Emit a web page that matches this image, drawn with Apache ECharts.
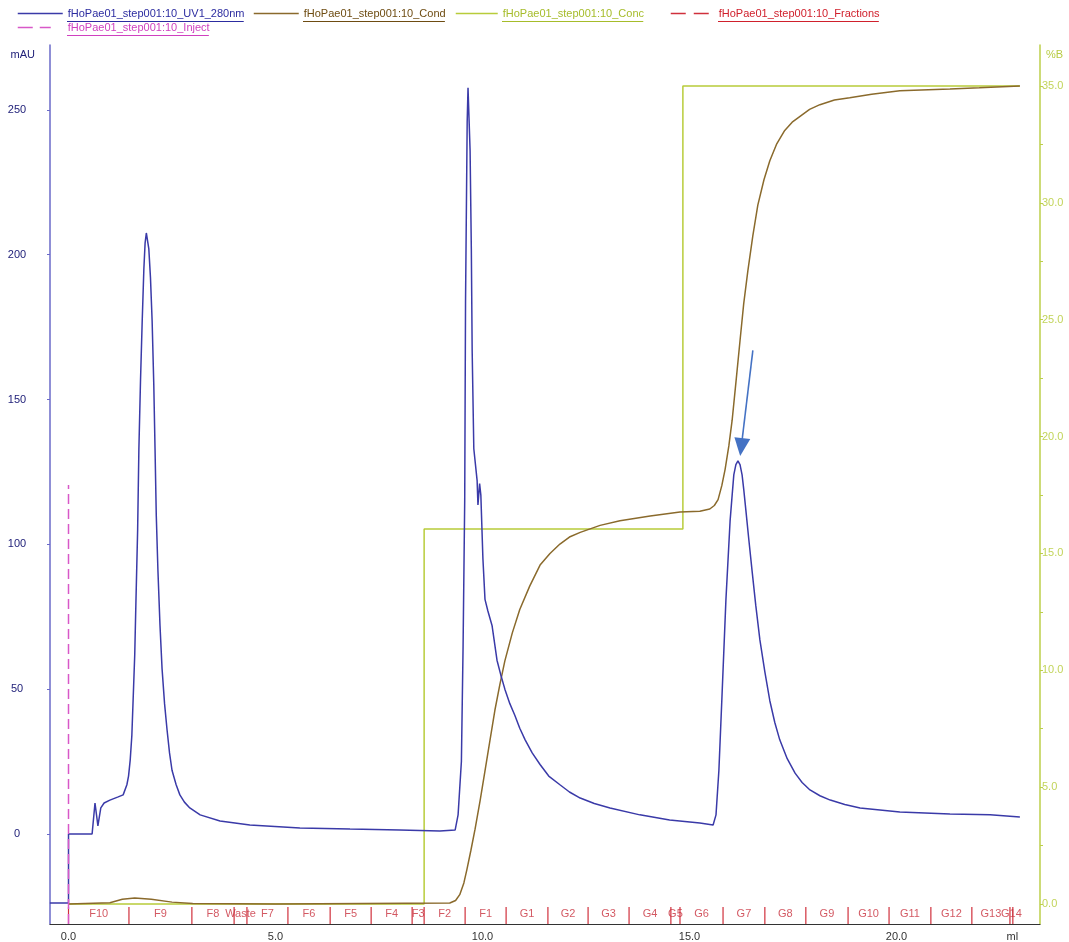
<!DOCTYPE html>
<html>
<head>
    <meta charset="utf-8">
    <title>fHoPae01 step001:10</title>
    <script src="https://cdn.jsdelivr.net/npm/echarts@6/dist/echarts.min.js"></script>
    <style>
        html, body { margin: 0; padding: 0; background: #fff; }
    </style>
</head>
<body>
    <div id="main" style="width: 1069px;height:942px;"></div>
    <script type="text/javascript">
        // volume (ml) / mAU
        var uvData = [
            [-0.45, -23.8], [0, -23.8], [0, 0], [0.57, 0], [0.64, 10.7], [0.71, 2.8], [0.78, 9], [0.86, 10.7],
            [1.0, 11.7], [1.2, 12.8], [1.32, 13.5], [1.41, 17], [1.45, 20], [1.49, 25.5], [1.53, 34], [1.56, 46],
            [1.60, 62], [1.63, 81], [1.67, 105], [1.70, 133], [1.74, 157], [1.78, 177], [1.82, 195], [1.85, 204],
            [1.88, 207.5], [1.91, 207], [1.94, 202], [1.98, 192], [2.02, 177], [2.06, 155], [2.09, 133], [2.12, 110],
            [2.16, 91], [2.21, 72], [2.26, 57], [2.32, 45], [2.38, 36], [2.44, 28], [2.50, 22], [2.6, 17], [2.69, 13.5],
            [2.8, 11], [2.93, 9], [3.18, 6.6], [3.66, 4.5], [4.38, 3.1], [5.59, 2.1], [6.8, 1.7], [8.0, 1.4],
            [8.97, 1.0], [9.34, 1.4], [9.41, 6.6], [9.49, 25], [9.53, 64], [9.57, 115], [9.59, 184], [9.63, 246],
            [9.65, 257.6], [9.69, 257], [9.70, 236], [9.73, 202], [9.75, 167], [9.79, 133], [9.87, 122], [9.89, 113.6],
            [9.93, 121], [9.96, 117], [10.01, 95], [10.06, 81], [10.13, 77], [10.23, 72], [10.35, 60], [10.44, 55],
            [10.54, 50], [10.66, 45], [10.78, 41], [10.9, 36.5], [11.03, 32.5], [11.2, 28], [11.39, 24], [11.6, 20],
            [11.87, 17], [12.1, 14.5], [12.36, 12.4], [12.7, 10.5], [13.08, 9], [13.8, 6.6], [14.52, 4.8], [15.25, 3.8],
            [15.57, 3.1], [15.64, 6.6], [15.71, 22], [15.78, 46], [15.88, 81], [15.98, 108], [16.03, 117], [16.07, 124],
            [16.12, 127.5], [16.17, 128.8], [16.22, 127.5], [16.27, 124], [16.31, 119], [16.36, 112], [16.43, 102],
            [16.51, 91], [16.6, 79], [16.70, 67], [16.82, 56], [16.94, 46], [17.06, 38.5], [17.18, 32.5], [17.36, 26],
            [17.55, 21], [17.72, 17.8], [17.91, 15.2], [18.15, 13.2], [18.40, 11.7], [18.75, 10.2], [19.12, 9],
            [20.08, 7.6], [21.29, 6.9], [22.26, 6.6], [22.98, 5.9]
        ];
        // conductivity, drawn on the %B scale
        var condData = [
            [0, 0], [1.0, 0.05], [1.3, 0.2], [1.6, 0.26], [2.0, 0.2], [2.5, 0.08], [3.0, 0.02], [5.0, 0], [9.21, 0.04],
            [9.35, 0.15], [9.45, 0.4], [9.55, 0.9], [9.62, 1.45], [9.72, 2.3], [9.82, 3.2], [9.94, 4.4], [10.06, 5.7],
            [10.18, 7.0], [10.3, 8.3], [10.42, 9.4], [10.54, 10.4], [10.72, 11.6], [10.9, 12.6], [11.14, 13.6],
            [11.39, 14.5], [11.63, 15.0], [11.87, 15.4], [12.1, 15.7], [12.36, 15.9], [12.6, 16.05], [12.84, 16.2],
            [13.32, 16.4], [14.05, 16.6], [14.77, 16.77], [15.25, 16.8], [15.49, 16.9], [15.6, 17.05], [15.69, 17.3],
            [15.78, 17.9], [15.86, 18.6], [15.95, 19.6], [16.03, 20.7], [16.12, 22.3], [16.22, 24.1], [16.31, 25.7],
            [16.41, 27.1], [16.53, 28.6], [16.65, 29.9], [16.8, 31.0], [16.94, 31.8], [17.1, 32.5], [17.3, 33.1],
            [17.48, 33.45], [17.67, 33.7], [17.9, 34.0], [18.15, 34.2], [18.5, 34.4], [18.87, 34.5], [19.4, 34.65],
            [20.08, 34.8], [21.29, 34.87], [22.0, 34.92], [22.98, 35.0]
        ];
        // %B step gradient
        var concData = [[0, 0], [8.59, 16.05], [14.84, 35], [22.98, 35]];
        var injectData = [[0, -31.08], [0, 120.5]];
        var fractionTicks = [0.0, 1.46, 2.98, 4.0, 4.31, 5.30, 6.32, 7.31, 8.30, 8.59, 9.58, 10.57, 11.58, 12.55,
            13.54, 14.55, 14.77, 15.81, 16.82, 17.81, 18.83, 19.82, 20.83, 21.82, 22.74, 22.81];
        var fractionNames = ['F10', 'F9', 'F8', 'Waste', 'F7', 'F6', 'F5', 'F4', 'F3', 'F2', 'F1', 'G1', 'G2', 'G3',
            'G4', 'G5', 'G6', 'G7', 'G8', 'G9', 'G10', 'G11', 'G12', 'G13', 'G14'];
        var arrowFrom = [16.53, 167];
        var arrowTo = [16.25, 133.6];
        var uvTicks = [0, 50, 100, 150, 200, 250];
        var concTicks = [0, 2.5, 5, 7.5, 10, 12.5, 15, 17.5, 20, 22.5, 25, 27.5, 30, 32.5, 35];
        var concLabels = [0, 5, 10, 15, 20, 25, 30, 35];
        var volTicks = [0, 5, 10, 15, 20, 22.8];

        var UV = 'fHoPae01_step001:10_UV1_280nm';
        var COND = 'fHoPae01_step001:10_Cond';
        var CONC = 'fHoPae01_step001:10_Conc';
        var FRAC = 'fHoPae01_step001:10_Fractions';
        var INJ = 'fHoPae01_step001:10_Inject';

        var FONT = 'Liberation Sans';
        var bandTop = -25.2, bandBottom = -31.08, bandMid = -27.6;

        var fracLines = [];
        fractionTicks.forEach(function (x) {
            fracLines.push([x, bandTop], [x, bandBottom], [x, '-']);
        });
        var fracLabels = fractionNames.map(function (n, i) {
            return { name: n, value: [(fractionTicks[i] + fractionTicks[i + 1]) / 2, bandMid] };
        });

        var legends = [
            { name: UV, left: 17, top: 8, w: 45, pad: 0, color: '#2c2ca0', dash: null },
            { name: COND, left: 253, top: 8, w: 45, pad: 0, color: '#6e4c12', dash: null },
            { name: CONC, left: 455, top: 8, w: 42, pad: 0, color: '#a6bc2a', dash: null },
            { name: FRAC, left: 670, top: 8, w: 38, pad: 5, color: '#d0202c', dash: [15, 8] },
            { name: INJ, left: 17, top: 22, w: 33, pad: 12, color: '#d040c0', dash: [15, 7] }
        ];

        // underline under the legend texts
        var ctx = document.createElement('canvas').getContext('2d');
        ctx.font = '11px "' + FONT + '"';
        var underlines = legends.map(function (l) {
            var x0 = l.left + l.w + 5 + l.pad;
            var y = l.top + 13.5;
            return {
                type: 'line',
                shape: { x1: x0, y1: y, x2: x0 + ctx.measureText(l.name).width, y2: y },
                style: { stroke: l.color, lineWidth: 1 },
                silent: true
            };
        });

        var myChart = echarts.init(document.getElementById('main'));
        myChart.setOption({
            animation: false,
            backgroundColor: '#fff',
            textStyle: { fontFamily: FONT },
            legend: legends.map(function (l) {
                return {
                    left: l.left,
                    top: l.top,
                    padding: 0,
                    itemWidth: l.w,
                    itemHeight: 14,
                    selectedMode: false,
                    textStyle: { fontSize: 11, color: l.color, padding: [0, 0, 0, l.pad], fontFamily: FONT },
                    data: [{
                        name: l.name,
                        itemStyle: { opacity: 0 },
                        lineStyle: { type: l.dash || 'solid', width: 1.5 }
                    }]
                };
            }),
            graphic: underlines,
            grid: { left: 50, right: 29, top: 45, bottom: 18 },
            xAxis: {
                type: 'value',
                min: -0.447,
                max: 23.466,
                axisLine: { onZero: false, lineStyle: { color: '#333', width: 1.2 } },
                axisTick: { show: false },
                splitLine: { show: false },
                axisLabel: {
                    customValues: volTicks,
                    formatter: function (v) { return v > 22 ? 'ml' : v.toFixed(1); },
                    color: '#333', fontSize: 11, margin: 7
                }
            },
            yAxis: [
                {
                    type: 'value',
                    min: -31.08,
                    max: 272.4,
                    position: 'left',
                    name: 'mAU',
                    nameLocation: 'end',
                    nameGap: -10,
                    nameTextStyle: { color: '#22227a', fontSize: 11, align: 'right', verticalAlign: 'middle', padding: [0, 15, 0, 0] },
                    axisLine: { show: true, onZero: false, lineStyle: { color: '#6a6ac8', width: 1.5 } },
                    axisTick: { show: true, customValues: uvTicks, length: 3, lineStyle: { color: '#6a6ac8' } },
                    splitLine: { show: false },
                    axisLabel: { customValues: uvTicks, color: '#22227a', fontSize: 11, align: 'center', margin: 33 }
                },
                {
                    type: 'value',
                    min: -0.856,
                    max: 36.754,
                    position: 'right',
                    name: '%B',
                    nameLocation: 'end',
                    nameGap: -10,
                    nameTextStyle: { color: '#b8cc44', fontSize: 11, align: 'left', verticalAlign: 'middle', padding: [0, 0, 0, 6] },
                    axisLine: { show: true, onZero: false, lineStyle: { color: '#bccf4a', width: 1.5 } },
                    axisTick: { show: true, customValues: concTicks, length: 3, lineStyle: { color: '#bccf4a' } },
                    splitLine: { show: false },
                    axisLabel: {
                        customValues: concLabels,
                        formatter: function (v) { return v.toFixed(1); },
                        color: '#c2d45a', fontSize: 11, margin: 2
                    }
                }
            ],
            series: [
                {
                    name: UV,
                    type: 'line',
                    yAxisIndex: 0,
                    data: uvData,
                    symbol: 'none',
                    color: '#3a3aa8',
                    lineStyle: { width: 1.5, color: '#3a3aa8' },
                    z: 5,
                    markLine: {
                        silent: true,
                        symbol: ['none', 'triangle'],
                        symbolSize: [16, 18],
                        label: { show: false },
                        lineStyle: { color: '#4472c4', width: 1.6, type: 'solid' },
                        data: [[{ coord: arrowFrom }, { coord: arrowTo }]]
                    }
                },
                {
                    name: COND,
                    type: 'line',
                    yAxisIndex: 1,
                    data: condData,
                    symbol: 'none',
                    color: '#8a6a2c',
                    lineStyle: { width: 1.5, color: '#8a6a2c' },
                    z: 4
                },
                {
                    name: CONC,
                    type: 'line',
                    yAxisIndex: 1,
                    step: 'end',
                    data: concData,
                    symbol: 'none',
                    color: '#b8cc3a',
                    lineStyle: { width: 1.5, color: '#b8cc3a' },
                    z: 3
                },
                {
                    name: FRAC,
                    type: 'line',
                    yAxisIndex: 0,
                    data: fracLines,
                    connectNulls: false,
                    symbol: 'none',
                    color: '#d0303c',
                    lineStyle: { width: 1.2, color: '#d0303c' },
                    z: 2
                },
                {
                    name: 'fractionLabels',
                    type: 'scatter',
                    yAxisIndex: 0,
                    data: fracLabels,
                    symbolSize: 1,
                    itemStyle: { color: 'transparent' },
                    label: {
                        show: true,
                        position: 'inside',
                        formatter: '{b}',
                        color: '#c8303c',
                        fontSize: 11,
                        fontFamily: FONT
                    },
                    silent: true,
                    z: 2
                },
                {
                    name: INJ,
                    type: 'line',
                    yAxisIndex: 0,
                    data: injectData,
                    symbol: 'none',
                    color: '#d858c8',
                    lineStyle: { width: 1.5, color: '#d858c8', type: [10, 5] },
                    z: 6
                }
            ]
        });
    </script>
</body>
</html>
